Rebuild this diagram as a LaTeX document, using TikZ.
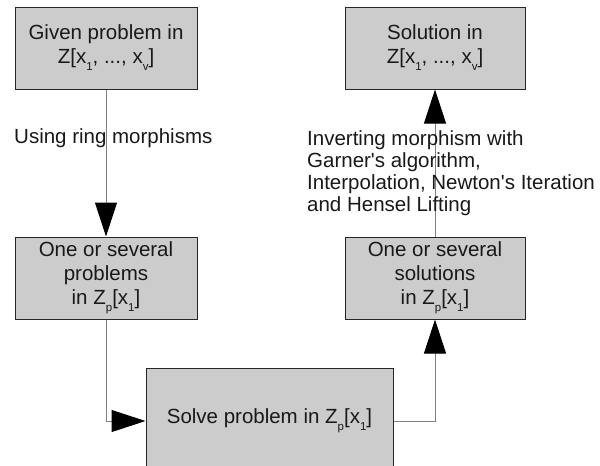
\documentclass[tikz,border=0pt]{standalone}
\usepackage{fontspec}
\setmainfont{Liberation Sans}
\usetikzlibrary{arrows.meta}
\newcommand\lsub[1]{\raisebox{-7pt}{\fontsize{11.5}{11.5}\selectfont #1}}
\begin{document}
\begin{tikzpicture}[x=1pt,y=-1pt,
  box/.style={draw=black!85, fill=black!20, line width=1pt, align=center, inner sep=0pt,
    font=\fontsize{20.5}{24}\selectfont, text=black!90},
  conn/.style={draw=black!50, line width=1pt, -{Triangle[length=34pt,width=22pt,color=black]}},
  lbl/.style={font=\fontsize{20.5}{22}\selectfont, align=left, inner sep=0pt, text=black!90}]
\useasboundingbox (0,0) rectangle (600,466);
\clip (0,0) rectangle (600,466);
\node[box, minimum width=182pt, minimum height=82pt] (given) at (106,48)
  {Given problem in\\Z[x\lsub{1}, ..., x\lsub{v}]};
\node[box, minimum width=180pt, minimum height=82pt] (sol) at (435,48)
  {Solution in\\Z[x\lsub{1}, ..., x\lsub{v}]};
\node[box, minimum width=182pt, minimum height=82pt] (probs) at (106,278)
  {One or several\\problems\\in Z\lsub{p}[x\lsub{1}]};
\node[box, minimum width=180pt, minimum height=82pt] (sols) at (435,278)
  {One or several\\solutions\\in Z\lsub{p}[x\lsub{1}]};
\node[box, minimum width=247pt, minimum height=106pt] (solve) at (269.5,421)
  {Solve problem in Z\lsub{p}[x\lsub{1}]};
\draw[conn] (given) -- (probs);
\draw[conn] (probs.south) |- (solve.west);
\draw[conn] (solve.east) -| (sols.south);
\draw[conn] (sols) -- (sol);
\node[lbl, anchor=west] (l1) at (14,138) {Using ring morphisms};
\node[lbl, anchor=west] (l2) at (307,173) {Inverting morphism with\\Garner\textquotesingle s algorithm,\\Interpolation, Newton\textquotesingle s Iteration\\and Hensel Lifting};
\end{tikzpicture}
\end{document}
